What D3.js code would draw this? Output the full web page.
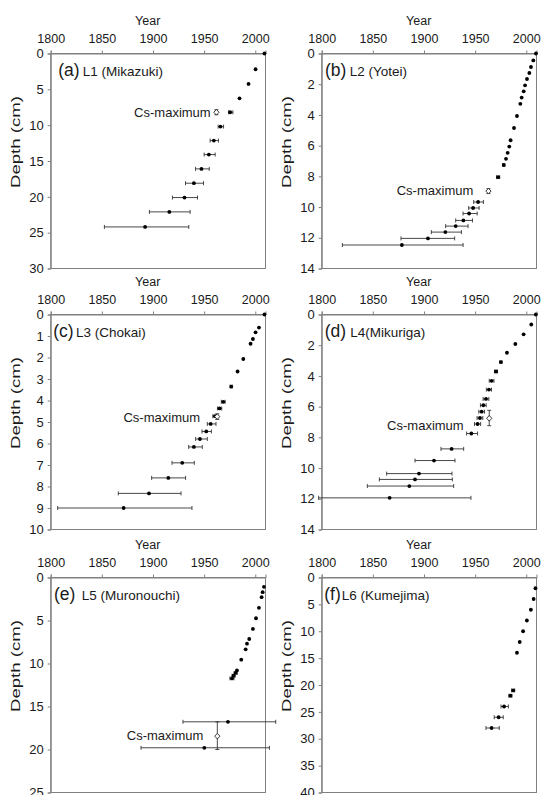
<!DOCTYPE html>
<html><head><meta charset="utf-8">
<script src="https://cdn.jsdelivr.net/npm/d3@7"></script>
<style>
body{margin:0;background:#fff;}
text{font-family:"Liberation Sans",Arial,Helvetica,sans-serif;fill:#1a1a1a;}
</style>
</head><body>
<svg id="chart" width="542" height="795"></svg>
<script>
// ---------------- data ----------------
const xTicks = [1800, 1850, 1900, 1950, 2000];
const panelLetters = ["(a)", "(b)", "(c)", "(d)", "(e)", "(f)"];
const siteNames = ["L1 (Mikazuki)", "L2 (Yotei)", "L3 (Chokai)", "L4(Mikuriga)", "L5 (Muronouchi)", "L6 (Kumejima)"];
const depthMax = [30, 14, 10, 14, 25, 40];
const depthStep = [5, 2, 1, 2, 5, 5];

// L1 (a)
const depthA = [0, 2.2, 4.25, 6.25, 8.2, 10.2, 12.15, 14.1, 16.1, 18.1, 20.1, 22.1, 24.2];
const yearA  = [2009, 2000.3, 1993.4, 1984.6, 1975.5, 1966, 1959.5, 1954.6, 1947.4, 1940, 1930.8, 1916, 1892.3];
const loA    = [2009, 2000.3, 1993.4, 1984.6, 1973.8, 1963.7, 1955.9, 1950, 1941.6, 1931.8, 1919, 1896.5, 1852.5];
const hiA    = [2009, 2000.3, 1993.4, 1984.6, 1978.1, 1969, 1964, 1960.8, 1955, 1949.4, 1943.5, 1936.3, 1935];

// L2 (b)
const depthB = [0, 0.45, 0.88, 1.27, 1.66, 2.07, 2.46, 2.87, 3.28, 4.07, 4.85, 5.65, 6.06, 6.47, 6.86, 7.26, 8.05, 9.67, 10.06, 10.42, 10.87, 11.24, 11.63, 12.04, 12.47];
const yearB  = [2009.5, 2006.9, 2004.6, 2003.0, 2000.7, 1998.8, 1997.5, 1995.5, 1994.2, 1990.9, 1988.0, 1984.7, 1983.4, 1981.8, 1980.2, 1978.0, 1972.5, 1952.9, 1948.0, 1944.1, 1938.5, 1931.0, 1920.9, 1903.9, 1878.4];
const loB    = [2009.5, 2006.9, 2004.6, 2003.0, 2000.7, 1998.8, 1997.5, 1995.5, 1994.2, 1990.9, 1988.0, 1984.7, 1983.4, 1981.8, 1980.2, 1977.0, 1971.0, 1948.6, 1943.7, 1938.2, 1931.0, 1921.2, 1907.2, 1877.5, 1820.2];
const hiB    = [2009.5, 2006.9, 2004.6, 2003.0, 2000.7, 1998.8, 1997.5, 1995.5, 1994.2, 1990.9, 1988.0, 1984.7, 1983.4, 1981.8, 1980.2, 1979.0, 1974.0, 1958.1, 1953.9, 1952.0, 1947.4, 1943.1, 1936.6, 1930.0, 1938.2];

// L3 (c)
const depthC = [0, 0.61, 0.83, 1.14, 1.36, 2.07, 2.65, 3.35, 4.06, 4.37, 4.73, 5.09, 5.44, 5.79, 6.16, 6.9, 7.6, 8.32, 9.0];
const yearC  = [2009, 2003.6, 2000.3, 1997.7, 1995.4, 1988.3, 1982.7, 1976.5, 1968.7, 1965.1, 1960.6, 1956.4, 1952.1, 1945.9, 1940, 1928.6, 1915, 1896.1, 1871.3];
const loC    = [2009, 2003.6, 2000.3, 1997.7, 1995.4, 1988.3, 1982.7, 1975.5, 1966.8, 1963.0, 1958.5, 1953.1, 1947.9, 1941.7, 1934.9, 1918.6, 1898.7, 1866.1, 1806.8];
const hiC    = [2009, 2003.6, 2000.3, 1997.7, 1995.4, 1988.3, 1982.7, 1977.5, 1970.6, 1967.2, 1962.7, 1961.6, 1957.1, 1953.1, 1948.2, 1940.4, 1931.9, 1927.4, 1938.1];

// L4 (d)
const depthD = [0, 0.65, 1.29, 1.92, 2.49, 3.10, 3.71, 4.32, 4.89, 5.50, 5.91, 6.33, 6.74, 7.13, 7.75, 8.75, 9.51, 10.36, 10.74, 11.17, 11.94];
const yearD  = [2009.4, 2004.9, 1997.4, 1989.3, 1981.1, 1975.2, 1970.4, 1966.1, 1963.5, 1960.6, 1958, 1956.4, 1954.7, 1952.4, 1946.3, 1927, 1909.8, 1895.1, 1891.2, 1885.7, 1866.4];
const loD    = [2009.4, 2004.9, 1997.4, 1989.3, 1981.1, 1974.2, 1968.9, 1963.8, 1961.0, 1957.8, 1955.2, 1953.6, 1951.9, 1949.4, 1941.7, 1916.6, 1891.2, 1863.5, 1856.4, 1844.6, 1797];
const hiD    = [2009.4, 2004.9, 1997.4, 1989.3, 1981.1, 1976.2, 1971.9, 1968.4, 1966.0, 1963.4, 1960.8, 1959.2, 1957.5, 1955.4, 1952.4, 1938.8, 1930.3, 1927.4, 1927.7, 1929.0, 1945.9];

// L5 (e)
const depthE = [1.09, 1.71, 2.29, 3.53, 4.74, 5.98, 7.15, 7.69, 8.35, 9.55, 10.8, 11.1, 11.42, 11.73, 16.78, 19.8];
const yearE  = [2008.5, 2007.2, 2006.2, 2003.6, 2000.7, 1997.7, 1994.1, 1991.9, 1990.6, 1986.3, 1982.1, 1980.8, 1978.8, 1977.2, 1973.3, 1950.2];
const loE    = [2008.5, 2007.2, 2006.2, 2003.6, 2000.7, 1997.7, 1994.1, 1991.9, 1990.6, 1986.3, 1982.1, 1979.3, 1977.3, 1975.2, 1929.3, 1888.3];
const hiE    = [2008.5, 2007.2, 2006.2, 2003.6, 2000.7, 1997.7, 1994.1, 1991.9, 1990.6, 1986.3, 1982.1, 1982.3, 1980.3, 1979.2, 2020.0, 2013.8];

// L6 (f)
const depthF = [2, 4, 6, 8, 10, 12, 14, 21, 22, 24, 26, 28];
const yearF  = [2009, 2007.2, 2004.5, 2000.6, 1996.9, 1993.6, 1990.9, 1987.2, 1984.5, 1978.3, 1973, 1966.1];
const loF    = [2009, 2007.2, 2004.5, 2000.6, 1996.9, 1993.6, 1990.9, 1985.7, 1983.0, 1975.3, 1968.7, 1960.6];
const hiF    = [2009, 2007.2, 2004.5, 2000.6, 1996.9, 1993.6, 1990.9, 1988.7, 1986.0, 1982.5, 1977.5, 1973.6];

// Cs-maximum markers (null = none)
const csYear     = [1962.0, 1963.0, 1962.8, 1963.8, 1962.9, null];
const csYearLo   = [1961.0, 1961.5, 1961.8, 1962.8, 1961.9, null];
const csYearHi   = [1963.0, 1964.5, 1963.8, 1964.8, 1963.9, null];
const csDepth    = [8.2, 8.96, 4.75, 6.76, 18.45, null];
const csDepthLo  = [7.85, 8.8, 4.62, 6.24, 16.78, null];
const csDepthHi  = [8.55, 9.12, 4.88, 7.24, 20.0, null];
const csLabel    = "Cs-maximum";
const csLabelYear  = [1956.4, 1948.2, 1946.0, 1938.8, 1949.2, null];
const csLabelDepth = [8.2, 8.95, 4.78, 7.25, 18.35, null];

const xLabel = "Year";
const yLabel = "Depth (cm)";

// ---------------- layout ----------------
const colLeft = [50.7, 321.7];
const rowTop = [53.5, 314.5, 577.5];
const plotW = 214.8, plotH = 215;
const letterDx = [7.6, 3.3, 2.6, 3.0, 3.3, 2.6];
const nameDx = [32, 28, 25.3, 28.6, 31, 20];

const series = [
  [depthA, yearA, loA, hiA],
  [depthB, yearB, loB, hiB],
  [depthC, yearC, loC, hiC],
  [depthD, yearD, loD, hiD],
  [depthE, yearE, loE, hiE],
  [depthF, yearF, loF, hiF]
];

const axisColor = "#808080";
const svg = d3.select("#chart");

series.forEach((s, i) => {
  const [dep, yr, lo, hi] = s;
  const col = i % 2, row = Math.floor(i / 2);
  const g = svg.append("g").attr("transform", `translate(${colLeft[col]},${rowTop[row]})`);
  const x = d3.scaleLinear().domain([1800, 2010]).range([0, plotW]);
  const y = d3.scaleLinear().domain([0, depthMax[i]]).range([0, plotH]);

  // frame
  g.append("rect").attr("x", 0).attr("y", 0).attr("width", plotW).attr("height", plotH)
    .attr("fill", "none").attr("stroke", axisColor).attr("stroke-width", 1);

  // top axis
  const ax = g.append("g").call(d3.axisTop(x).tickValues(xTicks).tickSize(3).tickPadding(7.5).tickFormat(d3.format("d")));
  ax.select(".domain").attr("stroke", axisColor);
  ax.selectAll(".tick line").attr("stroke", axisColor);
  ax.selectAll("text").attr("font-size", 12.5).attr("fill", "#1a1a1a")
    .style("font-family", '"Liberation Sans",Arial,sans-serif');

  // left axis
  const yTicks = d3.range(0, depthMax[i] + 0.001, depthStep[i]);
  const ay = g.append("g").call(d3.axisLeft(y).tickValues(yTicks).tickSize(3).tickPadding(4).tickFormat(d3.format("d")));
  ay.select(".domain").attr("stroke", axisColor);
  ay.selectAll(".tick line").attr("stroke", axisColor);
  ay.selectAll("text").attr("font-size", 13).attr("fill", "#1a1a1a")
    .style("font-family", '"Liberation Sans",Arial,sans-serif');

  // axis titles
  g.append("text").attr("x", 97).attr("y", -29).attr("text-anchor", "middle")
    .attr("font-size", 12.5).text(xLabel);
  g.append("text").attr("transform", `translate(-30.5,${plotH / 2 - 19}) rotate(-90)`)
    .attr("text-anchor", "middle").attr("font-size", 13)
    .attr("textLength", 92).attr("lengthAdjust", "spacingAndGlyphs").text(yLabel);

  // panel labels
  g.append("text").attr("x", letterDx[i]).attr("y", 22).attr("font-size", 17.5).text(panelLetters[i]);
  g.append("text").attr("x", nameDx[i]).attr("y", 22).attr("font-size", 13.5).text(siteNames[i]);

  // error bars
  const idx = d3.range(dep.length);
  const eb = g.append("g").attr("stroke", "#333").attr("stroke-width", 0.9);
  idx.filter(k => hi[k] - lo[k] > 0.5).forEach(k => {
    const yy = y(dep[k]);
    eb.append("line").attr("x1", x(lo[k])).attr("x2", x(hi[k])).attr("y1", yy).attr("y2", yy);
    eb.append("line").attr("x1", x(lo[k])).attr("x2", x(lo[k])).attr("y1", yy - 2).attr("y2", yy + 2);
    eb.append("line").attr("x1", x(hi[k])).attr("x2", x(hi[k])).attr("y1", yy - 2).attr("y2", yy + 2);
  });

  // points
  g.append("g").selectAll("circle").data(idx).join("circle")
    .attr("cx", k => x(yr[k])).attr("cy", k => y(dep[k])).attr("r", 1.9).attr("fill", "#000");

  // Cs-maximum
  if (csYear[i] !== null) {
    const cx = x(csYear[i]), cy = y(csDepth[i]);
    const cg = g.append("g").attr("stroke", "#333").attr("stroke-width", 0.9);
    cg.append("line").attr("x1", cx).attr("x2", cx).attr("y1", y(csDepthLo[i])).attr("y2", y(csDepthHi[i]));
    cg.append("line").attr("x1", cx - 2).attr("x2", cx + 2).attr("y1", y(csDepthLo[i])).attr("y2", y(csDepthLo[i]));
    cg.append("line").attr("x1", cx - 2).attr("x2", cx + 2).attr("y1", y(csDepthHi[i])).attr("y2", y(csDepthHi[i]));
    cg.append("line").attr("x1", x(csYearLo[i])).attr("x2", x(csYearHi[i])).attr("y1", cy).attr("y2", cy);
    cg.append("path").attr("d", `M${cx},${cy - 2.8}L${cx + 2.6},${cy}L${cx},${cy + 2.8}L${cx - 2.6},${cy}Z`)
      .attr("fill", "#fff").attr("stroke", "#222");
    g.append("text").attr("x", x(csLabelYear[i])).attr("y", y(csLabelDepth[i])).attr("dy", "0.35em")
      .attr("text-anchor", "end").attr("font-size", 13).text(csLabel);
  }
});
</script>
</body></html>
